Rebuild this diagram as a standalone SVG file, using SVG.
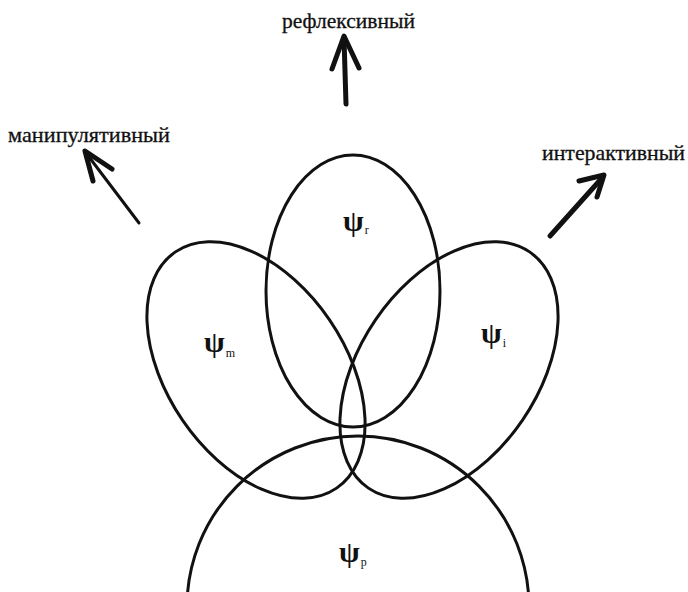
<svg xmlns="http://www.w3.org/2000/svg" width="688" height="592" viewBox="0 0 688 592">
<style>
.shape{fill:none;stroke:#111;stroke-width:3}
.arr{fill:none;stroke:#111;stroke-linecap:round;stroke-linejoin:round}
.lbl{font-family:"Liberation Serif","DejaVu Serif",serif;font-size:21px;fill:#111;stroke:#111;stroke-width:0.3}
.psi{font-family:"Liberation Serif","DejaVu Serif",serif;font-size:30px;font-weight:bold;fill:#111}
.sub{font-family:"Liberation Serif","DejaVu Serif",serif;font-size:12px;font-weight:normal;fill:#111}
</style>
<rect width="688" height="592" fill="#fff"/>
<g id="node-r">
<ellipse class="shape" cx="353" cy="291" rx="87" ry="136"/>
<text class="psi" x="343" y="231">ψ<tspan class="sub" dx="1" dy="3">r</tspan></text>
</g>
<g id="node-m">
<ellipse class="shape" cx="256" cy="370" rx="143" ry="89" transform="rotate(55.7 256 370)"/>
<text class="psi" x="204" y="352">ψ<tspan class="sub" dx="1" dy="5">m</tspan></text>
</g>
<g id="node-i">
<ellipse class="shape" cx="449" cy="370" rx="143" ry="89" transform="rotate(-55.7 449 370)"/>
<text class="psi" x="481" y="343">ψ<tspan class="sub" dx="1" dy="4">i</tspan></text>
</g>
<g id="node-p">
<circle class="shape" cx="358" cy="607" r="171"/>
<text class="psi" x="339" y="562">ψ<tspan class="sub" dx="1" dy="4">p</tspan></text>
</g>
<g id="connectors">
<path class="arr" stroke-width="5" d="M346 104 L344 38"/>
<path class="arr" stroke-width="5" d="M332 69 L344 36 L359 68"/>
<path class="arr" stroke-width="3" d="M139 223 L86 153"/>
<path class="arr" stroke-width="5" d="M93 181 L85 151 L112 169"/>
<path class="arr" stroke-width="5" d="M550 236 L602 178"/>
<path class="arr" stroke-width="5" d="M579 181 L604 175 L597 197"/>
</g>
<g id="labels">
<text class="lbl" x="282" y="28" textLength="133" lengthAdjust="spacingAndGlyphs">рефлексивный</text>
<text class="lbl" x="8" y="142" textLength="162" lengthAdjust="spacingAndGlyphs">манипулятивный</text>
<text class="lbl" x="542" y="160" textLength="143" lengthAdjust="spacingAndGlyphs">интерактивный</text>
</g>
</svg>
